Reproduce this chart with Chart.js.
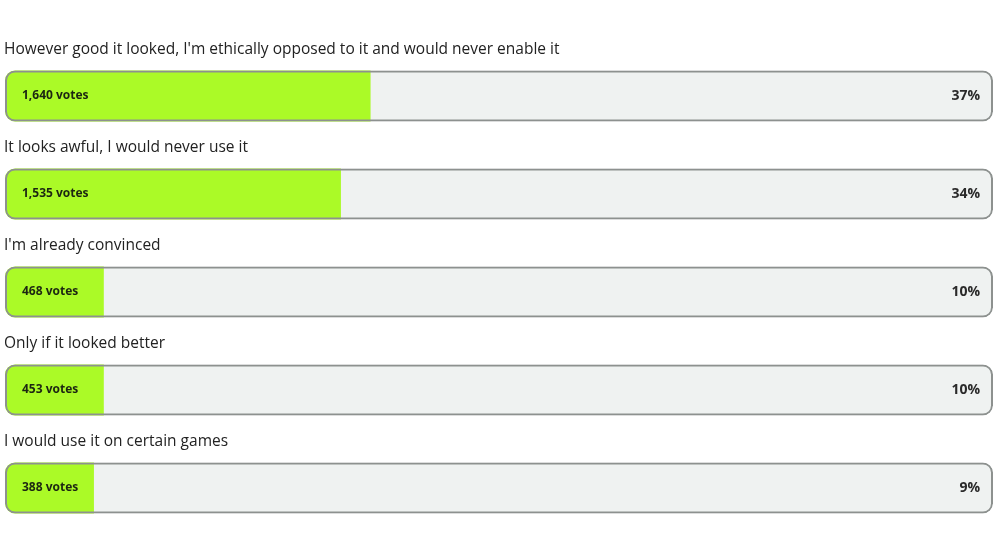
<!DOCTYPE html>
<html>
<head>
<meta charset="utf-8">
<script src="https://cdn.jsdelivr.net/npm/chart.js@4/dist/chart.umd.min.js"></script>
<style>
  html, body { margin: 0; padding: 0; background: #ffffff; }
  #wrap { width: 1000px; height: 558px; }
</style>
</head>
<body>
<div id="wrap"><canvas id="c" width="1000" height="558"></canvas></div>
<script>
const questions = [
  "However good it looked, I'm ethically opposed to it and would never enable it",
  "It looks awful, I would never use it",
  "I'm already convinced",
  "Only if it looked better",
  "I would use it on certain games"
];
const votes = [1640, 1535, 468, 453, 388];
const percents = [37, 34, 10, 10, 9];
const fullScale = [100, 100, 100, 100, 100];

const FONT = "'Open Sans', 'DejaVu Sans', sans-serif";

const labelPlugin = {
  id: 'pollLabels',
  afterDatasetsDraw(chart) {
    const ctx = chart.ctx;
    const meta = chart.getDatasetMeta(0); // outline dataset
    ctx.save();
    meta.data.forEach((bar, i) => {
      const top = bar.y - bar.height / 2;
      const left = bar.base;
      const right = bar.x;
      // question text
      ctx.fillStyle = '#222222';
      ctx.font = "400 15.5px " + FONT;
      ctx.textAlign = 'left';
      ctx.textBaseline = 'middle';
      ctx.fillText(questions[i], left - 1, top - 21);
      // votes
      ctx.fillStyle = '#1c2612';
      ctx.font = "700 12px " + FONT;
      ctx.fillText(votes[i].toLocaleString('en-US') + ' votes', left + 17, bar.y);
      // percent
      ctx.fillStyle = '#2a2a2a';
      ctx.font = "700 14px " + FONT;
      ctx.textAlign = 'right';
      ctx.fillText(percents[i] + '%', right - 13, bar.y);
    });
    ctx.restore();
  }
};

new Chart(document.getElementById('c'), {
  type: 'bar',
  data: {
    labels: questions,
    datasets: [
      {
        label: 'outline',
        data: fullScale,
        backgroundColor: 'rgba(0,0,0,0)',
        borderColor: '#8d918f',
        borderWidth: 2,
        borderRadius: 10,
        borderSkipped: false,
        grouped: false,
        order: 0
      },
      {
        label: 'votes',
        data: percents,
        backgroundColor: '#abfa27',
        borderWidth: 0,
        borderRadius: { topLeft: 10, bottomLeft: 10, topRight: 0, bottomRight: 0 },
        borderSkipped: false,
        grouped: false,
        order: 1
      },
      {
        label: 'track',
        data: fullScale,
        backgroundColor: '#eff2f1',
        borderWidth: 0,
        borderRadius: 10,
        borderSkipped: false,
        grouped: false,
        order: 2
      }
    ]
  },
  options: {
    indexAxis: 'y',
    responsive: false,
    animation: false,
    devicePixelRatio: 1,
    layout: { padding: { top: 47, bottom: 21, left: 5, right: 7 } },
    datasets: { bar: { categoryPercentage: 1, barPercentage: 0.52 } },
    scales: {
      x: { display: false, min: 0, max: 100 },
      y: { display: false }
    },
    plugins: {
      legend: { display: false },
      tooltip: { enabled: false }
    }
  },
  plugins: [labelPlugin]
});
</script>
</body>
</html>
